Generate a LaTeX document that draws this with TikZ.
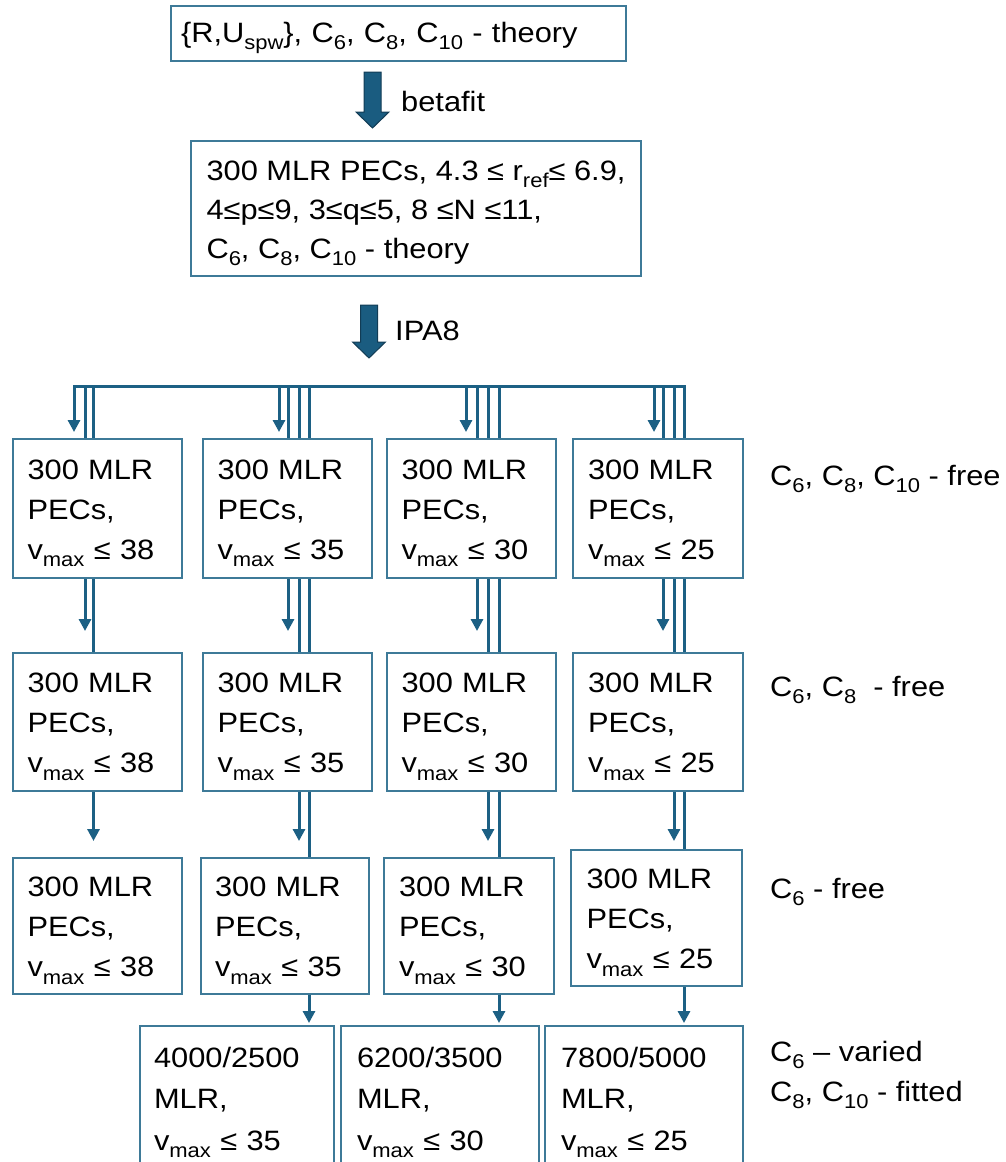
\documentclass[tikz,border=0pt]{standalone}
\usepackage{fontspec}
\setmainfont{Liberation Sans}[FakeStretch=1.1]
\usetikzlibrary{arrows.meta}
\definecolor{lncol}{RGB}{28,96,132}
\definecolor{boxcol}{RGB}{62,122,152}
\definecolor{arrfill}{RGB}{26,92,128}
\definecolor{arrline}{RGB}{18,60,85}
\newcommand\sbs[1]{\raisebox{-0.26em}{\fontsize{20}{20}\selectfont #1}}
\newcommand\tp{\rule{0pt}{29pt}}
\begin{document}
\begin{tikzpicture}[x=1pt,y=-1pt,
  box/.style={draw=boxcol,line width=2pt,anchor=north west,inner xsep=14pt,inner ysep=0pt,align=left,font=\fontsize{28}{40}\selectfont},
  ln/.style={draw=lncol,line width=3pt},
  tip/.style={ln,-{Triangle[width=12pt,length=12pt]}},
  lab/.style={anchor=west,font=\fontsize{28}{40}\selectfont,align=left,inner sep=0pt},
  blk/.style={fill=arrfill,draw=arrline,line width=1pt}]
\useasboundingbox[fill=white] (0,0) rectangle (1005,1162);

% top boxes
\node[box,text width=435,minimum width=455,minimum height=55,inner xsep=10pt] (top) at (170,5)
  {\tp\{R,U\sbs{spw}\}, C\sbs{6}, C\sbs{8}, C\sbs{10} - theory};
\node[box,minimum width=450,minimum height=135,font=\fontsize{28}{39}\selectfont] (mlr) at (190,140)
  {\tp 300 MLR PECs, 4.3 ≤ r\sbs{ref}≤ 6.9,\\4≤p≤9, 3≤q≤5, 8 ≤N ≤11,\\C\sbs{6}, C\sbs{8}, C\sbs{10} - theory};

% block arrows
\draw[blk] (364,72) -- (381,72) -- (381,112) -- (389,112) -- (372.5,128) -- (356,112) -- (364,112) -- cycle;
\node[lab] (lbeta) at (401,101) {betafit};
\draw[blk] (360.5,305) -- (377.5,305) -- (377.5,342) -- (385.5,342) -- (369,358) -- (352.5,342) -- (360.5,342) -- cycle;
\node[lab] (lipa) at (395,331) {IPA8};

% rows of boxes
\foreach \i/\x/\w in {1/12/169,2/202/169,3/386/169,4/572/170}{
  \node[box,text width=140,minimum width=\w,minimum height=139] (b1\i) at (\x,438)
    {\tp 300 MLR\\PECs,\\v\sbs{max} ≤ \ifcase\i\or 38\or 35\or 30\or 25\fi};
  \node[box,text width=140,minimum width=\w,minimum height=138] (b2\i) at (\x,652)
    {\tp 300 MLR\\PECs,\\v\sbs{max} ≤ \ifcase\i\or 38\or 35\or 30\or 25\fi};
}
\foreach \i/\x/\y/\w in {1/12/857/169,2/200/857/168,3/383/857/170,4/570/849/171}{
  \node[box,text width=140,minimum width=\w,minimum height=136] (b3\i) at (\x,\y)
    {\tp 300 MLR\\PECs,\\v\sbs{max} ≤ \ifcase\i\or 38\or 35\or 30\or 25\fi};
}
\tikzset{lastrow/.style={box,text width=166,minimum height=144,font=\fontsize{28}{41.5}\selectfont}}
\node[lastrow,minimum width=193] (b41) at (139,1025) {\tp 4000/2500\\MLR,\\v\sbs{max} ≤ 35};
\node[lastrow,minimum width=198] (b42) at (340,1025) {\tp 6200/3500\\MLR,\\v\sbs{max} ≤ 30};
\node[lastrow,minimum width=198] (b43) at (544,1025) {\tp 7800/5000\\MLR,\\v\sbs{max} ≤ 25};

% side labels
\node[lab] (s1) at (770,479) {C\sbs{6}, C\sbs{8}, C\sbs{10} - free};
\node[lab] (s2) at (770,690) {C\sbs{6}, C\sbs{8} \ - free};
\node[lab] (s3) at (770,892) {C\sbs{6} - free};
\node[lab] (s4) at (770,1075) {C\sbs{6} – varied\\C\sbs{8}, C\sbs{10} - fitted};

% connector levels
\coordinate (busL) at (74,386);
\coordinate (busR) at (684,386);
\coordinate (y1) at (0,432);
\coordinate (y2) at (0,631);
\coordinate (y3) at (0,841);
\coordinate (y4) at (0,1023);

% bus
\draw[tip] (busR |- b14.north) -- (busR) -- (busL) -- (busL |- y1);

% group 1
\coordinate (tb1) at (85,0);
\coordinate (tc1) at (93.5,0);
\draw[ln] (tb1 |- busL) -- (tb1 |- b11.north);
\draw[ln] (tc1 |- busL) -- (tc1 |- b11.north);
\draw[tip] (tb1 |- b11.south) -- (tb1 |- y2);
\draw[ln] (tc1 |- b11.south) -- (tc1 |- b21.north);
\draw[tip] (tc1 |- b21.south) -- (tc1 |- y3);

% groups 2-4
\foreach \g/\a/\b/\c/\d in {2/279/288/299/309,3/466/477/488/499,4/654/663/674/684}{
  \coordinate (ta\g) at (\a,0);
  \coordinate (tb\g) at (\b,0);
  \coordinate (tc\g) at (\c,0);
  \coordinate (td\g) at (\d,0);
  \draw[tip] (ta\g |- busL) -- (ta\g |- y1);
  \draw[ln] (tb\g |- busL) -- (tb\g |- b1\g.north);
  \draw[ln] (tc\g |- busL) -- (tc\g |- b1\g.north);
  \draw[ln] (td\g |- busL) -- (td\g |- b1\g.north);
  \draw[tip] (tb\g |- b1\g.south) -- (tb\g |- y2);
  \draw[ln] (tc\g |- b1\g.south) -- (tc\g |- b2\g.north);
  \draw[ln] (td\g |- b1\g.south) -- (td\g |- b2\g.north);
  \draw[tip] (tc\g |- b2\g.south) -- (tc\g |- y3);
  \draw[ln] (td\g |- b2\g.south) -- (td\g |- b3\g.north);
  \draw[tip] (td\g |- b3\g.south) -- (td\g |- y4);
}
\end{tikzpicture}
\end{document}
